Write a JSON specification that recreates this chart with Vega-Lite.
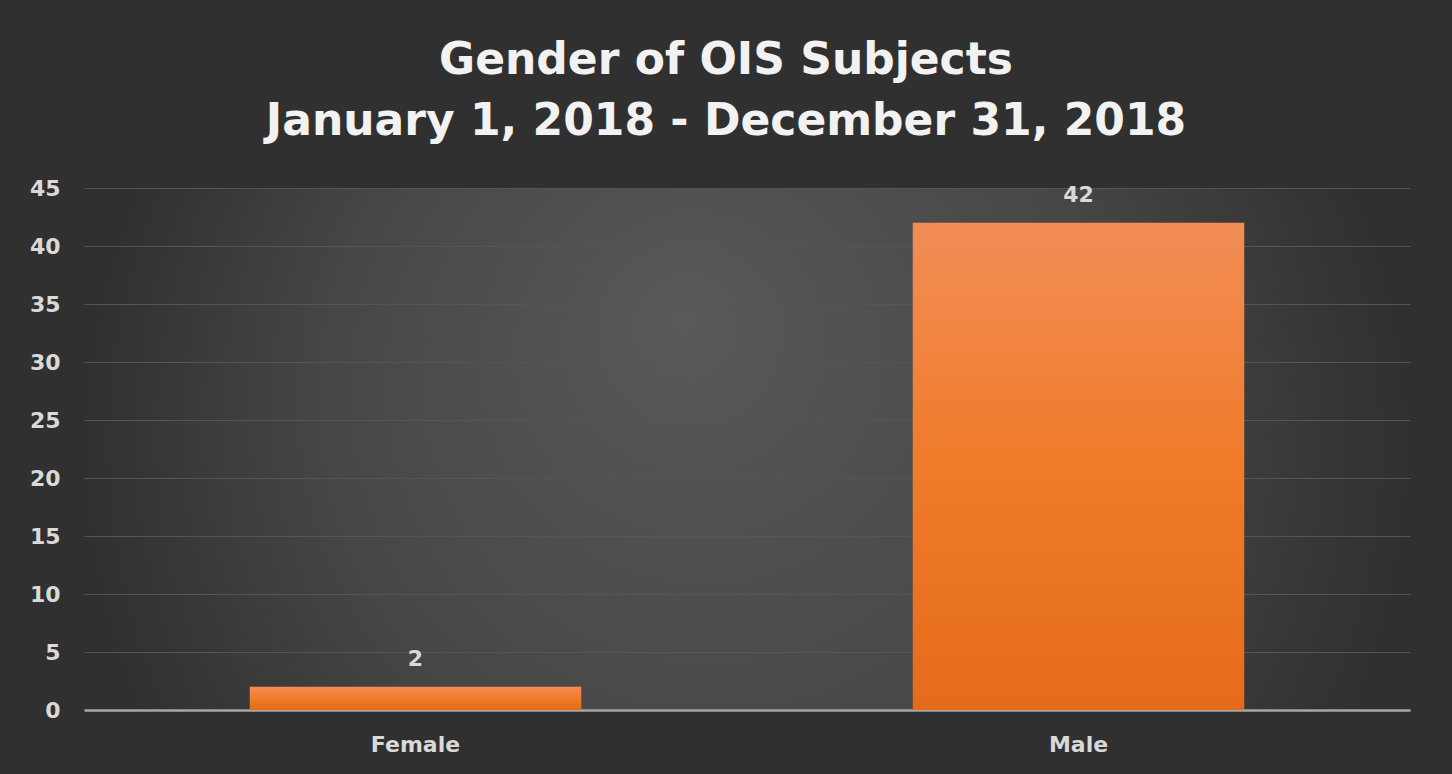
{
  "$schema": "https://vega.github.io/schema/vega-lite/v6.json",
  "width": 1326,
  "height": 522,
  "autosize": {"type": "none"},
  "padding": {"left": 84, "top": 188, "right": 42, "bottom": 64},
  "background": "#303030",
  "title": {
    "text": ["Gender of OIS Subjects", "January 1, 2018 - December 31, 2018"],
    "font": "DejaVu Sans",
    "fontSize": 44,
    "fontWeight": "bold",
    "color": "#f2f2f2",
    "lineHeight": 61,
    "offset": 33,
    "dx": -21,
    "anchor": "middle",
    "limit": 0
  },
  "config": {
    "view": {
      "stroke": null,
      "fill": {
        "gradient": "radial",
        "x1": 0.45, "y1": 0.4, "r1": 0,
        "x2": 0.5, "y2": 0.5, "r2": 0.5,
        "stops": [
          {"offset": 0, "color": "#595959"},
          {"offset": 0.6, "color": "#464646"},
          {"offset": 1, "color": "#303030"}
        ]
      }
    }
  },
  "data": {
    "values": [
      {"gender": "Female", "count": 2},
      {"gender": "Male", "count": 42}
    ]
  },
  "encoding": {
    "x": {
      "field": "gender",
      "type": "nominal",
      "sort": null,
      "scale": {"paddingInner": 0.5, "paddingOuter": 0.25},
      "axis": {
        "title": null,
        "labelAngle": 0,
        "labelFont": "DejaVu Sans",
        "labelFontSize": 22,
        "labelFontWeight": "bold",
        "labelColor": "#d9d9d9",
        "labelPadding": 24,
        "ticks": false,
        "domain": true,
        "domainColor": "#a6a6a6",
        "domainWidth": 2.5,
        "grid": false
      }
    },
    "y": {
      "field": "count",
      "type": "quantitative",
      "scale": {"domain": [0, 45], "nice": false},
      "axis": {
        "title": null,
        "values": [0, 5, 10, 15, 20, 25, 30, 35, 40, 45],
        "labelFont": "DejaVu Sans",
        "labelFontSize": 22,
        "labelFontWeight": "bold",
        "labelColor": "#d9d9d9",
        "labelPadding": 24,
        "ticks": false,
        "domain": false,
        "grid": true,
        "gridColor": "#555555",
        "gridWidth": 1
      }
    }
  },
  "layer": [
    {
      "mark": {
        "type": "bar",
        "fill": {
          "gradient": "linear",
          "x1": 0, "y1": 0, "x2": 0, "y2": 1,
          "stops": [
            {"offset": 0, "color": "#f28d56"},
            {"offset": 0.5, "color": "#f07b2a"},
            {"offset": 1, "color": "#e46b1a"}
          ]
        }
      }
    },
    {
      "mark": {
        "type": "text",
        "font": "DejaVu Sans",
        "fontSize": 22,
        "fontWeight": "bold",
        "color": "#d9d9d9",
        "baseline": "alphabetic",
        "dy": -21
      },
      "encoding": {
        "text": {"field": "count", "type": "quantitative"}
      }
    }
  ]
}
